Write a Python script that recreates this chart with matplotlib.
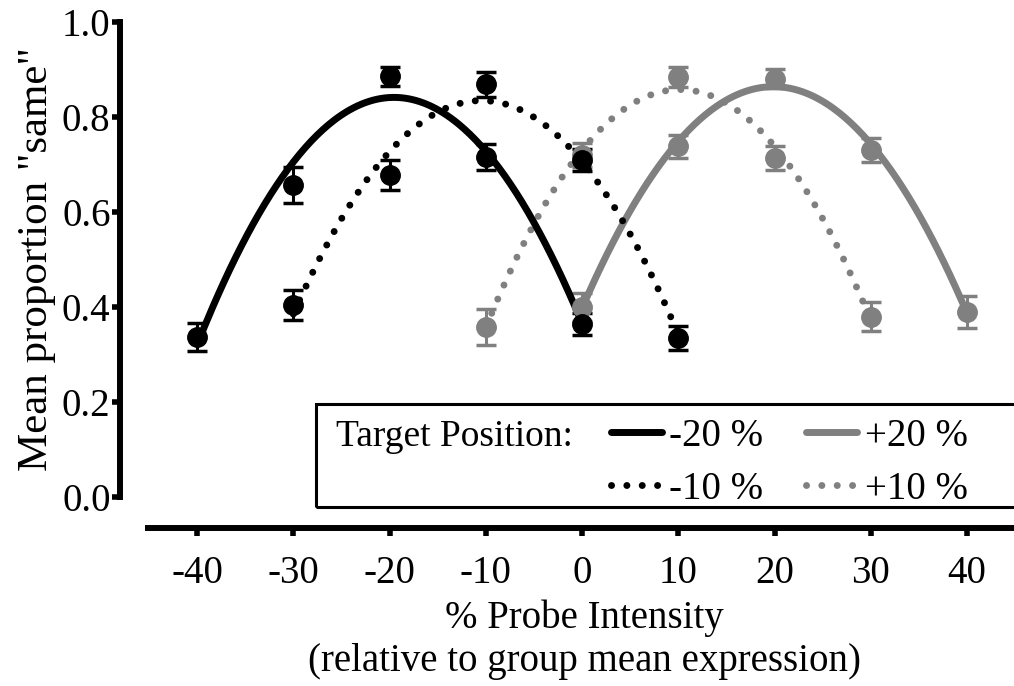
import numpy as np
import matplotlib
matplotlib.use("Agg")
import matplotlib.pyplot as plt
from matplotlib.lines import Line2D
from matplotlib.patches import Rectangle

plt.rcParams["font.family"] = ["Liberation Serif", "DejaVu Serif"]

# data
x_m20 = [-40, -30, -20, -10, 0]
y_m20 = [0.337, 0.657, 0.886, 0.716, 0.364]
e_m20 = [0.030, 0.038, 0.020, 0.027, 0.023]

x_m10 = [-30, -20, -10, 0, 10]
y_m10 = [0.404, 0.678, 0.869, 0.709, 0.335]
e_m10 = [0.032, 0.032, 0.026, 0.023, 0.026]

x_p10 = [-10, 0, 10, 20, 30]
y_p10 = [0.358, 0.720, 0.884, 0.714, 0.380]
e_p10 = [0.037, 0.025, 0.021, 0.025, 0.030]

x_p20 = [0, 10, 20, 30, 40]
y_p20 = [0.400, 0.738, 0.881, 0.731, 0.390]
e_p20 = [0.030, 0.024, 0.020, 0.025, 0.034]

labels = ["-20 %", "-10 %", "+20 %", "+10 %"]
xticks = [-40, -30, -20, -10, 0, 10, 20, 30, 40]
yticks = [0.0, 0.2, 0.4, 0.6, 0.8, 1.0]

GRAY = "#808080"
FS = 28
DOT = (0, (0.01, 2.2))

fig = plt.figure(figsize=(10.14, 6.86), dpi=100)
ax = fig.add_axes([148 / 1014, 189 / 686, 872 / 1014, 475 / 686])


def series(x, y, e, color, ls):
    coef = np.polyfit(x, y, 2)
    xf = np.linspace(min(x), max(x), 200)
    ax.plot(xf, np.polyval(coef, xf), color=color, lw=5, linestyle=ls,
            dash_capstyle="round", solid_capstyle="butt", clip_on=False)
    ax.errorbar(x, y, yerr=e, fmt="o", color=color, ms=14, capsize=7.2,
                elinewidth=2.2, capthick=2.5, clip_on=False)


series(x_p20, y_p20, e_p20, GRAY, "-")
series(x_p10, y_p10, e_p10, GRAY, DOT)
series(x_m20, y_m20, e_m20, "black", "-")
series(x_m10, y_m10, e_m10, "black", DOT)

ax.set_xlim(-45.1, 45.5)
ax.set_ylim(0, 1.0)
ax.set_xticks(xticks)
ax.set_xticklabels([str(t) for t in xticks])
ax.set_yticks(yticks)
ax.set_yticklabels(["%.1f" % t for t in yticks])

for s in ["top", "right"]:
    ax.spines[s].set_visible(False)
ax.spines["left"].set_position(("outward", 20))
ax.spines["bottom"].set_position(("outward", 22))
ax.spines["left"].set_linewidth(4.3)
ax.spines["bottom"].set_linewidth(4.3)
ax.tick_params(axis="both", length=6, width=4, labelsize=FS)
ax.tick_params(axis="x", pad=14)
ax.tick_params(axis="y", pad=1)

ax.set_xlabel("% Probe Intensity\n(relative to group mean expression)",
              fontsize=FS, labelpad=5, linespacing=1.22)
ax.set_ylabel('Mean proportion "same"', fontsize=31, labelpad=4)

# legend box
ax.add_patch(Rectangle((-27.6, -0.021), 80, 0.217, transform=ax.transData,
                       fill=False, lw=2.2, ec="black", clip_on=False))
ax.text(-25.6, 0.126, "Target Position:", fontsize=27, ha="left", va="center")

handles = [
    Line2D([], [], color="black", lw=5, solid_capstyle="round"),
    Line2D([], [], color="black", lw=5, linestyle=DOT, dash_capstyle="round"),
    Line2D([], [], color=GRAY, lw=5, solid_capstyle="round"),
    Line2D([], [], color=GRAY, lw=5, linestyle=DOT, dash_capstyle="round"),
]
ax.legend(handles, labels, ncol=2, frameon=False, fontsize=FS,
          loc="center left", bbox_to_anchor=(1.0, 0.072),
          bbox_transform=ax.transData, borderpad=0, handlelength=1.3,
          handletextpad=0.2, columnspacing=1.1, labelspacing=0.42)

fig.savefig("out.png", dpi=100)
